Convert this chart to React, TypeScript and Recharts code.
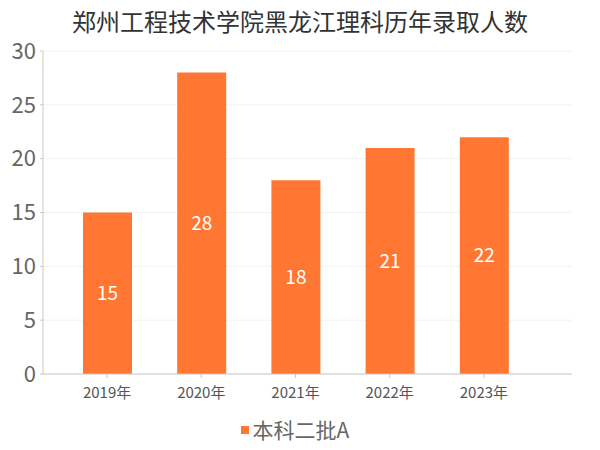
import { BarChart, Bar, XAxis, YAxis, CartesianGrid, Legend, LabelList } from "recharts";

const years = ["2019年", "2020年", "2021年", "2022年", "2023年"];
const admitted = [15, 28, 18, 21, 22];
const yTicks = [0, 5, 10, 15, 20, 25, 30];

const SERIES = "本科二批A";
const ORANGE = "#ff7733";
const FONT = "'Noto Sans CJK SC', sans-serif";

const chartData = years.map((year, i) => ({ year, [SERIES]: admitted[i] }));

function LegendContent() {
  return (
    <div style={{ display: "flex", justifyContent: "center", alignItems: "center", fontFamily: FONT, height: 30, marginLeft: -10 }}>
      <span style={{ width: 8, height: 8, background: ORANGE, marginRight: 4, marginTop: 2 }} />
      <span style={{ fontSize: 21, color: "#666" }}>{SERIES}</span>
    </div>
  );
}

export default function App() {
  return (
    <div style={{ position: "absolute", left: 0, top: 0, width: 600, height: 450, background: "#fff", fontFamily: FONT }}>
      <div
        style={{
          position: "absolute",
          top: 3,
          left: 0,
          width: 600,
          textAlign: "center",
          fontSize: 24,
          color: "#333",
          zIndex: 1,
        }}
      >
        郑州工程技术学院黑龙江理科历年录取人数
      </div>
      <BarChart width={600} height={450} data={chartData} margin={{ top: 51, right: 28, left: 0, bottom: 16 }}>
        <CartesianGrid vertical={false} stroke="#f2f2f2" />
        <XAxis
          dataKey="year"
          padding={{ left: 17, right: 41 }}
          height={30}
          tick={{ fill: "#555", fontSize: 15, fontFamily: FONT }}
          tickSize={4}
          tickMargin={9}
          stroke="#c8c8c8"
        />
        <YAxis
          width={43}
          domain={[0, 30]}
          ticks={yTicks}
          tick={{ fill: "#666", fontSize: 22, fontFamily: FONT }}
          tickSize={3}
          tickMargin={4}
          stroke="#c8c8c8"
        />
        <Legend
          verticalAlign="bottom"
          height={30}
          content={<LegendContent />}
          wrapperStyle={{ top: 414, left: 0, width: 600, height: 30 }}
        />
        <Bar dataKey={SERIES} fill={ORANGE} barSize={49} isAnimationActive={false}>
          <LabelList dataKey={SERIES} position="center" fill="#fff" fontSize={19} fontFamily={FONT} />
        </Bar>
      </BarChart>
    </div>
  );
}
